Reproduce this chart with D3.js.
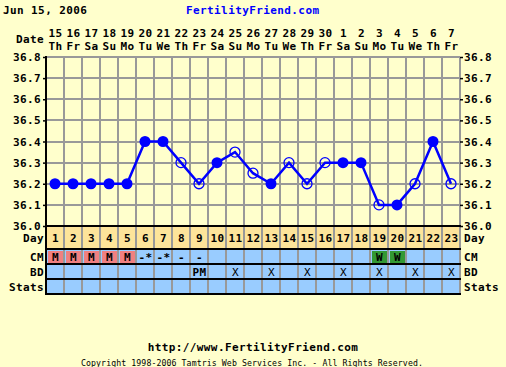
<!DOCTYPE html>
<html>
<head>
<meta charset="utf-8">
<script src="https://cdn.jsdelivr.net/npm/d3@7"></script>
<style>
  body { margin: 0; background: #FFFFCC; }
  svg { display: block; }
  text { font-family: "DejaVu Sans Mono", monospace; font-weight: bold; font-size: 11px; letter-spacing: 0.4px; }
</style>
</head>
<body>
<svg width="506" height="367"></svg>
<script>
// chart data
var dates = ["15","16","17","18","19","20","21","22","23","24","25","26","27","28","29","30","1","2","3","4","5","6","7"];
var weekdays = ["Th","Fr","Sa","Su","Mo","Tu","We","Th","Fr","Sa","Su","Mo","Tu","We","Th","Fr","Sa","Su","Mo","Tu","We","Th","Fr"];
var cycleDays = [1,2,3,4,5,6,7,8,9,10,11,12,13,14,15,16,17,18,19,20,21,22,23];
var temps = [36.2,36.2,36.2,36.2,36.2,36.4,36.4,36.3,36.2,36.3,36.35,36.25,36.2,36.3,36.2,36.3,36.3,36.3,36.1,36.1,36.2,36.4,36.2];
var filled = [1,1,1,1,1,1,1,0,0,1,0,0,1,0,0,0,1,1,0,1,0,1,0];
var cm = ["M","M","M","M","M","-*","-*","-","-","","","","","","","","","","W","W","","",""];
var bd = ["","","","","","","","","PM","","X","","X","","X","","X","","X","","X","","X"];
var yTicks = [36.0,36.1,36.2,36.3,36.4,36.5,36.6,36.7,36.8];

function init() {
    var svg = d3.select("svg");
    var left = 46, right = 460;

    var x = d3.scaleBand().domain(cycleDays).range([left, right]);
    var y = d3.scaleLinear().domain([36.0, 36.8]).range([226, 57]);
    var rows = {day: [226, 249], cm: [249, 264], bd: [264, 279], stats: [279, 294]};

    // header
    svg.append("text").attr("x", 3).attr("y", 14).text("Jun 15, 2006");
    svg.append("text").attr("x", 186).attr("y", 14).attr("fill", "#0000FF").text("FertilityFriend.com");

    svg.append("text").attr("x", 44).attr("y", 43).attr("text-anchor", "end").text("Date");
    svg.selectAll("text.date").data(cycleDays).enter().append("text")
        .attr("class", "date")
        .attr("x", function(d) { return x(d) + x.bandwidth() / 2 + 0.5; })
        .attr("y", 37)
        .attr("text-anchor", "middle")
        .text(function(d, i) { return dates[i]; });
    svg.selectAll("text.wd").data(cycleDays).enter().append("text")
        .attr("class", "wd")
        .attr("x", function(d) { return x(d) + x.bandwidth() / 2 + 0.5; })
        .attr("y", 50)
        .attr("text-anchor", "middle")
        .text(function(d, i) { return weekdays[i]; });

    // row backgrounds
    svg.append("rect").attr("x", left).attr("y", rows.day[0]).attr("width", right - left)
        .attr("height", rows.day[1] - rows.day[0]).attr("fill", "#FDE49A");
    svg.append("rect").attr("x", left).attr("y", rows.cm[0]).attr("width", right - left)
        .attr("height", rows.stats[1] - rows.cm[0]).attr("fill", "#99CCFF");

    // CM cells
    var cmCol = {"M": "#F08080", "W": "#339933"};
    svg.selectAll("rect.cm").data(cycleDays.filter(function(d, i) { return cmCol[cm[i]]; }))
        .enter().append("rect")
        .attr("x", function(d) { return x(d) + 2; })
        .attr("y", rows.cm[0] + 2)
        .attr("width", x.bandwidth() - 3)
        .attr("height", rows.cm[1] - rows.cm[0] - 3)
        .attr("fill", function(d) { return cmCol[cm[d - 1]]; });

    // grid
    var grid = svg.append("g").attr("stroke", "#999").attr("stroke-width", 2);
    grid.selectAll("line.h").data(yTicks.slice(1)).enter().append("line")
        .attr("x1", left).attr("x2", right)
        .attr("y1", function(d) { return Math.round(y(d)); })
        .attr("y2", function(d) { return Math.round(y(d)); });
    grid.selectAll("line.v").data(cycleDays.slice(1).concat(["end"])).enter().append("line")
        .attr("x1", function(d) { return d === "end" ? right : x(d); })
        .attr("x2", function(d) { return d === "end" ? right : x(d); })
        .attr("y1", y(36.8)).attr("y2", rows.stats[1]);

    var blk = svg.append("g").attr("stroke", "#000").attr("stroke-width", 2);
    [rows.day[0], rows.day[1], rows.cm[1], rows.bd[1], rows.stats[1]].forEach(function(v) {
        blk.append("line").attr("x1", left).attr("x2", right + 1).attr("y1", v).attr("y2", v);
    });
    blk.append("line").attr("x1", left).attr("x2", left).attr("y1", y(36.8) - 1).attr("y2", rows.stats[1] + 1);

    // y axes
    var fmt = d3.format(".1f");
    var yl = svg.append("g").attr("transform", "translate(" + left + ",0)")
        .call(d3.axisLeft(y).tickValues(yTicks).tickFormat(fmt).tickSize(3).tickPadding(2));
    var yr = svg.append("g").attr("transform", "translate(" + right + ",0)")
        .call(d3.axisRight(y).tickValues(yTicks).tickFormat(fmt).tickSize(3).tickPadding(1));
    [yl, yr].forEach(function(g) {
        g.attr("font-family", null).attr("font-size", null);
        g.select(".domain").remove();
        g.selectAll("line").attr("stroke", "#000").attr("stroke-width", 1.5);
        g.selectAll("text").attr("fill", "#000");
    });

    // row labels
    var labels = [["Day", rows.day], ["CM", rows.cm], ["BD", rows.bd], ["Stats", rows.stats]];
    labels.forEach(function(l) {
        var cy = (l[1][0] + l[1][1]) / 2 + 4;
        svg.append("text").attr("x", 44).attr("y", cy).attr("text-anchor", "end").text(l[0]);
        svg.append("text").attr("x", 464).attr("y", cy).text(l[0]);
    });

    // day numbers, cm, bd
    svg.selectAll("text.day").data(cycleDays).enter().append("text")
        .attr("x", function(d) { return x(d) + x.bandwidth() / 2 + 0.5; })
        .attr("y", (rows.day[0] + rows.day[1]) / 2 + 4)
        .attr("text-anchor", "middle")
        .text(function(d) { return d; });
    svg.selectAll("text.cm").data(cycleDays).enter().append("text")
        .attr("x", function(d) { return x(d) + x.bandwidth() / 2 + 0.5; })
        .attr("y", (rows.cm[0] + rows.cm[1]) / 2 + 4)
        .attr("text-anchor", "middle")
        .text(function(d, i) { return cm[i]; });
    svg.selectAll("text.bd").data(cycleDays).enter().append("text")
        .attr("x", function(d) { return x(d) + x.bandwidth() / 2 + 0.5; })
        .attr("y", (rows.bd[0] + rows.bd[1]) / 2 + 4)
        .attr("text-anchor", "middle")
        .style("font-weight", function(d, i) { return bd[i] === "X" ? "normal" : "bold"; })
        .text(function(d, i) { return bd[i]; });

    // temperature line
    var cx = function(d) { return x(d) + x.bandwidth() / 2; };
    var line = d3.line()
        .x(function(d) { return cx(d); })
        .y(function(d) { return y(temps[d - 1]); });
    svg.append("path").datum(cycleDays)
        .attr("d", line)
        .attr("fill", "none")
        .attr("stroke", "#0000FF")
        .attr("stroke-width", 2.5);

    svg.selectAll("circle.pt").data(cycleDays).enter().append("circle")
        .attr("cx", cx)
        .attr("cy", function(d) { return y(temps[d - 1]); })
        .attr("r", function(d, i) { return filled[i] ? 5.5 : 5; })
        .attr("fill", function(d, i) { return filled[i] ? "#0000FF" : "none"; })
        .attr("stroke", "#0000FF")
        .attr("stroke-width", function(d, i) { return filled[i] ? 0 : 1.3; });

    // footer
    svg.append("text").attr("x", 253).attr("y", 351).attr("text-anchor", "middle")
        .text("http://www.FertilityFriend.com");
    svg.append("text").attr("x", 252).attr("y", 366).attr("text-anchor", "middle")
        .style("font-weight", "normal").style("font-size", "8.2px").style("letter-spacing", "0.1px")
        .text("Copyright 1998-2006 Tamtris Web Services Inc. - All Rights Reserved.");
}
init();
</script>
</body>
</html>
